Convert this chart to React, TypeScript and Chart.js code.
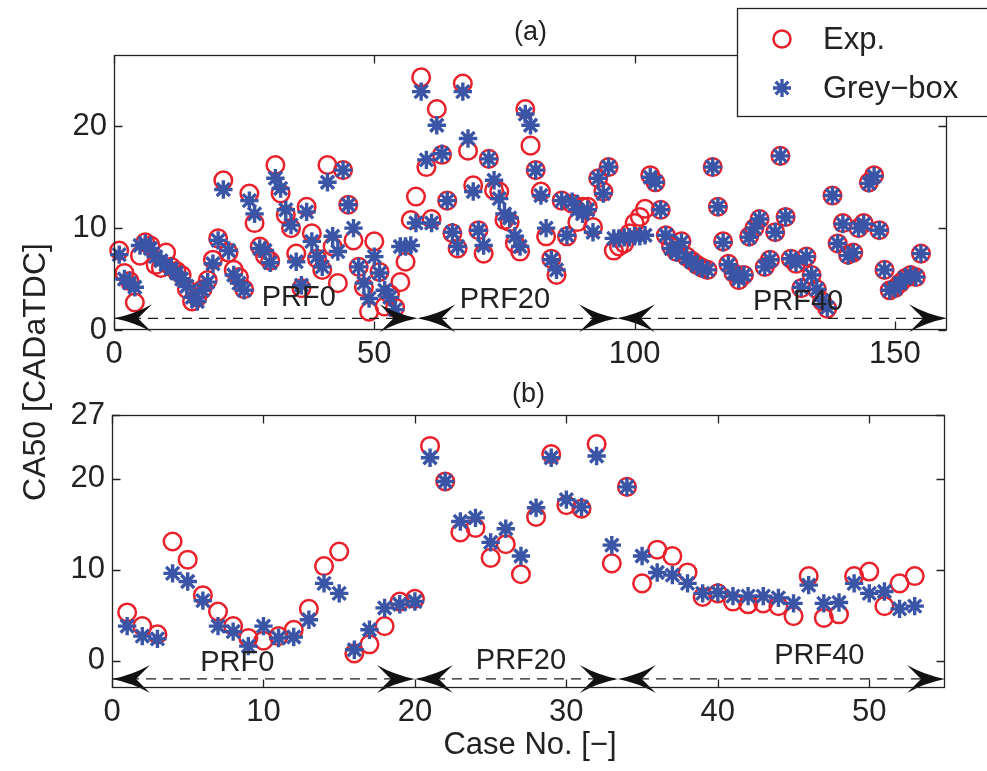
import React, { useEffect, useRef } from 'react';
import { Chart, registerables } from 'chart.js';
Chart.register(...registerables);

const FONT = "'Liberation Sans', Arial, Helvetica, sans-serif";
const TEXT = '#222222';
const RED = '#e8212b';
const BLUE = '#3a54a6';

// ---------- (a) all cases ----------
const topExp = [
  7.8, 5.6, 4.8, 2.7, 7.3, 8.6, 8.3, 6.4, 6.1, 7.6,
  6.2, 5.8, 5.4, 4.0, 2.8, 3.2, 4.0, 4.9, 6.9, 9.0,
  14.7, 7.6, 5.9, 5.2, 4.0, 13.4, 10.5, 8.2, 7.3, 6.8,
  16.2, 13.4, 11.3, 10.0, 7.5, 4.1, 12.1, 9.5, 7.0, 5.9,
  16.2, 8.2, 4.6, 15.7, 12.3, 8.8, 6.2, 4.2, 1.8, 8.7,
  5.7, 2.3, 3.5, 2.2, 4.7, 6.7, 10.8, 13.1, 24.8, 16.0,
  10.9, 21.7, 17.2, 12.7, 9.5, 8.0, 24.2, 17.6, 14.2, 9.8,
  7.5, 16.8, 13.7, 13.6, 10.8, 10.6, 8.5, 7.7, 21.7, 18.1,
  15.7, 13.6, 9.2, 7.0, 5.4, 12.7, 9.2, 12.4, 10.6, 12.1,
  12.1, 10.1, 14.9, 13.6, 16.0, 7.8, 8.2, 8.5, 9.5, 10.5,
  11.1, 11.9, 15.2, 14.5, 11.8, 9.3, 8.2, 7.7, 8.7, 7.2,
  6.8, 6.4, 6.1, 5.9, 16.0, 12.1, 8.7, 6.5, 5.6, 4.9,
  5.4, 9.2, 10.0, 10.9, 6.2, 6.9, 9.6, 17.1, 11.1, 7.0,
  6.5, 4.1, 7.2, 5.4, 4.0, 2.8, 2.1, 13.2, 8.5, 10.5,
  7.4, 7.6, 10.0, 10.5, 14.5, 15.2, 9.8, 5.9, 3.9, 4.1,
  4.6, 5.1, 5.4, 5.2, 7.5,
];
const topGrey = [
  7.4, 5.0, 4.6, 4.2, 8.3, 8.5, 8.0, 7.2, 6.8, 6.4,
  6.0, 5.6, 5.0, 4.3, 3.2, 2.8, 3.9, 4.7, 6.5, 8.8,
  13.8, 7.8, 5.4, 4.6, 3.9, 12.7, 11.4, 8.0, 7.8, 6.6,
  14.9, 13.9, 11.8, 10.3, 6.7, 4.4, 11.6, 8.7, 7.2, 6.2,
  14.5, 9.2, 7.7, 15.7, 12.3, 10.0, 6.2, 4.6, 3.1, 7.2,
  5.6, 3.9, 3.2, 2.0, 8.2, 8.2, 8.3, 10.5, 23.4, 16.7,
  10.5, 20.1, 17.3, 12.7, 9.6, 8.2, 23.4, 18.8, 13.6, 9.8,
  8.3, 16.8, 14.7, 12.9, 11.4, 11.0, 9.2, 8.2, 21.2, 20.1,
  15.7, 13.2, 10.0, 6.9, 5.9, 12.7, 9.3, 12.6, 11.8, 11.4,
  11.8, 9.6, 14.9, 13.4, 16.0, 9.0, 9.0, 9.1, 9.1, 9.2,
  9.2, 9.3, 15.0, 14.5, 11.8, 9.3, 8.0, 7.6, 8.6, 7.1,
  6.7, 6.3, 6.0, 5.9, 16.0, 12.1, 8.6, 6.4, 5.6, 5.0,
  5.4, 9.1, 10.0, 10.9, 6.2, 6.9, 9.6, 17.1, 11.1, 7.0,
  6.6, 4.2, 7.2, 5.4, 4.0, 2.9, 2.2, 13.2, 8.5, 10.4,
  7.3, 7.6, 10.0, 10.4, 14.4, 15.1, 9.8, 5.9, 3.9, 4.1,
  4.6, 5.1, 5.4, 5.2, 7.5,
];
const topCaseNo = topExp.map((_, i) => i + 1);
const topXTicks = [0, 50, 100, 150];
const topYTicks = [0, 10, 20];

// ---------- (b) selected cases ----------
const botExp = [
  5.3, 3.8, 2.9, 13.1, 11.1, 7.2, 5.4, 3.8, 2.5, 2.2,
  2.7, 3.4, 5.7, 10.4, 12.0, 0.8, 1.8, 3.8, 6.5, 6.8,
  23.6, 19.7, 14.1, 14.6, 11.3, 12.8, 9.5, 15.8, 22.7, 17.1,
  16.7, 23.8, 10.7, 19.1, 8.5, 12.2, 11.5, 9.7, 7.0, 7.4,
  6.5, 6.2, 6.3, 6.0, 4.9, 9.3, 4.7, 5.1, 9.3, 9.8,
  6.0, 8.5, 9.3,
];
const botGrey = [
  3.8, 2.7, 2.4, 9.6, 8.7, 6.6, 3.8, 3.2, 1.6, 3.8,
  2.5, 2.6, 4.5, 8.5, 7.4, 1.2, 3.4, 5.8, 6.2, 6.5,
  22.3, 19.7, 15.3, 15.7, 13.0, 14.5, 11.5, 16.8, 22.3, 17.7,
  16.9, 22.5, 12.7, 19.1, 11.5, 9.7, 9.4, 8.5, 7.4, 7.5,
  7.1, 7.1, 7.1, 6.9, 6.3, 8.3, 6.3, 6.4, 8.5, 7.4,
  7.6, 5.7, 6.0,
];
const botCaseNo = botExp.map((_, i) => i + 1);
const botXTicks = [0, 10, 20, 30, 40, 50];
const botYTicks = [0, 10, 20, 27];

// PRF groups: boundaries of the double arrows and their labels
const topSegments = [[0, 58.3], [58.3, 96.6], [96.6, 160]];
const botSegments = [[0, 20], [20, 33.4], [33.4, 55]];
const prfNames = ['PRF0', 'PRF20', 'PRF40'];
const topLabelX = [35.5, 75.1, 131.4];
const topLabelY = [3.1, 2.9, 2.75];
const botLabelX = [8.27, 27, 46.7];
const botLabelY = [-0.2, 0.0, 0.55];

function drawHead(ctx: CanvasRenderingContext2D, tipX: number, y: number, dir: number) {
  const L = 38, W = 14, N = 24;
  ctx.beginPath();
  ctx.moveTo(tipX, y);
  ctx.quadraticCurveTo(tipX - dir * L * 0.55, y - W * 0.3, tipX - dir * L, y - W);
  ctx.lineTo(tipX - dir * N, y);
  ctx.lineTo(tipX - dir * L, y + W);
  ctx.quadraticCurveTo(tipX - dir * L * 0.55, y + W * 0.3, tipX, y);
  ctx.closePath();
  ctx.fill();
}

function drawStar(ctx: CanvasRenderingContext2D, x: number, y: number, r: number) {
  ctx.beginPath();
  for (let k = 0; k < 4; k++) {
    const a = (k * Math.PI) / 4;
    ctx.moveTo(x - r * Math.cos(a), y - r * Math.sin(a));
    ctx.lineTo(x + r * Math.cos(a), y + r * Math.sin(a));
  }
  ctx.stroke();
}

type Cfg = {
  exp: number[]; grey: number[]; cases: number[];
  xMin: number; xMax: number; yMin: number; yMax: number;
  xTicks: number[]; yTicks: number[];
  padTop: number; padRight: number; yWidth: number; xHeight: number;
  arrowY: number; segs: number[][]; lx: number[]; ly: number[];
  title: string; titleY: number; isTop: boolean;
};

function makeConfig(c: Cfg): any {
  const deco = {
    id: 'deco',
    afterDatasetsDraw(chart: any) {
      const { ctx, chartArea: a, scales } = chart;
      const x = scales.x, y = scales.y;
      ctx.save();
      // dashed line + arrows
      const ay = y.getPixelForValue(c.arrowY);
      ctx.strokeStyle = '#1a1a1a';
      ctx.lineWidth = 1.3;
      ctx.setLineDash([10, 7]);
      ctx.beginPath();
      ctx.moveTo(x.getPixelForValue(c.segs[0][0]), ay);
      ctx.lineTo(x.getPixelForValue(c.segs[c.segs.length - 1][1]), ay);
      ctx.stroke();
      ctx.setLineDash([]);
      ctx.fillStyle = '#111';
      for (const s of c.segs) {
        drawHead(ctx, x.getPixelForValue(s[0]), ay, -1);
        drawHead(ctx, x.getPixelForValue(s[1]), ay, 1);
      }
      // PRF labels
      ctx.fillStyle = TEXT;
      ctx.font = `29px ${FONT}`;
      ctx.textAlign = 'center';
      ctx.textBaseline = 'middle';
      prfNames.forEach((t, i) => {
        ctx.fillText(t, x.getPixelForValue(c.lx[i]), y.getPixelForValue(c.ly[i]));
      });
      // frame
      ctx.strokeStyle = TEXT;
      ctx.lineWidth = 1.3;
      const L = Math.round(a.left) + 0.5, R = Math.round(a.right) - 0.5;
      const T = Math.round(a.top) + 0.5, B = Math.round(a.bottom) - 0.5;
      ctx.strokeRect(L, T, R - L, B - T);
      const tl = 8;
      ctx.beginPath();
      for (const v of c.xTicks) {
        const px = Math.round(x.getPixelForValue(v)) + 0.5;
        ctx.moveTo(px, B); ctx.lineTo(px, B - tl);
        ctx.moveTo(px, T); ctx.lineTo(px, T + tl);
      }
      for (const v of c.yTicks) {
        const py = Math.round(y.getPixelForValue(v)) + 0.5;
        ctx.moveTo(L, py); ctx.lineTo(L + tl, py);
        ctx.moveTo(R, py); ctx.lineTo(R - tl, py);
      }
      ctx.stroke();
      // title
      ctx.fillStyle = TEXT;
      ctx.font = `27px ${FONT}`;
      ctx.fillText(c.title, (a.left + a.right) / 2, c.titleY);
      if (c.isTop) {
        // y axis title spanning both panels
        ctx.save();
        ctx.translate(36, 372);
        ctx.rotate(-Math.PI / 2);
        ctx.font = `32px ${FONT}`;
        ctx.fillText('CA50 [CADaTDC]', 0, 0);
        ctx.restore();
        // legend
        ctx.fillStyle = '#fff';
        ctx.fillRect(737.5, 8.5, 260, 108);
        ctx.strokeStyle = TEXT;
        ctx.lineWidth = 1.3;
        ctx.strokeRect(737.5, 8.5, 260, 108);
        ctx.strokeStyle = RED;
        ctx.lineWidth = 2.5;
        ctx.beginPath();
        ctx.arc(782, 39, 8.5, 0, Math.PI * 2);
        ctx.stroke();
        ctx.strokeStyle = BLUE;
        ctx.lineWidth = 3.3;
        drawStar(ctx, 782, 88, 9);
        ctx.fillStyle = TEXT;
        ctx.font = `31px ${FONT}`;
        ctx.textAlign = 'left';
        ctx.fillText('Exp.', 823, 40);
        ctx.fillText('Grey\u2212box', 823, 89);
      } else {
        ctx.font = `31px ${FONT}`;
        ctx.fillText('Case No. [\u2212]', 530, 745);
      }
      ctx.restore();
    },
  };

  const tickFont = { family: FONT, size: 31 };
  return {
    type: 'scatter',
    data: {
      datasets: [
        {
          label: 'Grey\u2212box',
          data: c.grey.map((v, i) => ({ x: c.cases[i], y: v })),
          pointStyle: 'star',
          pointRadius: 9.2,
          borderColor: BLUE,
          backgroundColor: BLUE,
          pointBorderWidth: 3.4,
          order: 0,
          clip: false,
        },
        {
          label: 'Exp.',
          data: c.exp.map((v, i) => ({ x: c.cases[i], y: v })),
          pointStyle: 'circle',
          pointRadius: 8.8,
          borderColor: RED,
          backgroundColor: 'rgba(0,0,0,0)',
          pointBorderWidth: 2.5,
          order: 1,
          clip: false,
        },
      ],
    },
    options: {
      animation: false,
      responsive: false,
      maintainAspectRatio: false,
      events: [],
      layout: { padding: { left: 0, top: c.padTop, right: c.padRight, bottom: 0 } },
      plugins: { legend: { display: false }, tooltip: { enabled: false }, title: { display: false } },
      scales: {
        x: {
          type: 'linear',
          min: c.xMin,
          max: c.xMax,
          afterBuildTicks: (s: any) => { s.ticks = c.xTicks.map((v) => ({ value: v })); },
          afterFit: (s: any) => { s.height = c.xHeight; },
          grid: { display: false, drawTicks: false },
          border: { display: false },
          ticks: { font: tickFont, color: TEXT, padding: 6, maxRotation: 0, autoSkip: false },
        },
        y: {
          type: 'linear',
          min: c.yMin,
          max: c.yMax,
          afterBuildTicks: (s: any) => { s.ticks = c.yTicks.map((v) => ({ value: v })); },
          afterFit: (s: any) => { s.width = c.yWidth; },
          grid: { display: false, drawTicks: false },
          border: { display: false },
          ticks: { font: tickFont, color: TEXT, padding: 7, autoSkip: false },
        },
      },
    },
    plugins: [deco],
  };
}

export default function App() {
  const topRef = useRef<HTMLCanvasElement>(null);
  const botRef = useRef<HTMLCanvasElement>(null);
  useEffect(() => {
    const c1 = new Chart(topRef.current as HTMLCanvasElement, makeConfig({
      exp: topExp, grey: topGrey, cases: topCaseNo,
      xMin: 0, xMax: 160, yMin: 0, yMax: 27,
      xTicks: topXTicks, yTicks: topYTicks,
      padTop: 55, padRight: 40, yWidth: 114, xHeight: 771 - 330,
      arrowY: 1.15, segs: topSegments, lx: topLabelX, ly: topLabelY,
      title: '(a)', titleY: 33, isTop: true,
    }));
    const c2 = new Chart(botRef.current as HTMLCanvasElement, makeConfig({
      exp: botExp, grey: botGrey, cases: botCaseNo,
      xMin: 0, xMax: 55, yMin: -3, yMax: 27,
      xTicks: botXTicks, yTicks: botYTicks,
      padTop: 415, padRight: 42, yWidth: 112, xHeight: 771 - 688,
      arrowY: -2, segs: botSegments, lx: botLabelX, ly: botLabelY,
      title: '(b)', titleY: 395, isTop: false,
    }));
    return () => { c1.destroy(); c2.destroy(); };
  }, []);
  return (
    <div style={{ position: 'absolute', left: 0, top: 0, width: 987, height: 771, background: '#fff', overflow: 'hidden' }}>
      <canvas ref={botRef} width={987} height={771} style={{ position: 'absolute', left: 0, top: 0 }} />
      <canvas ref={topRef} width={987} height={771} style={{ position: 'absolute', left: 0, top: 0 }} />
    </div>
  );
}
